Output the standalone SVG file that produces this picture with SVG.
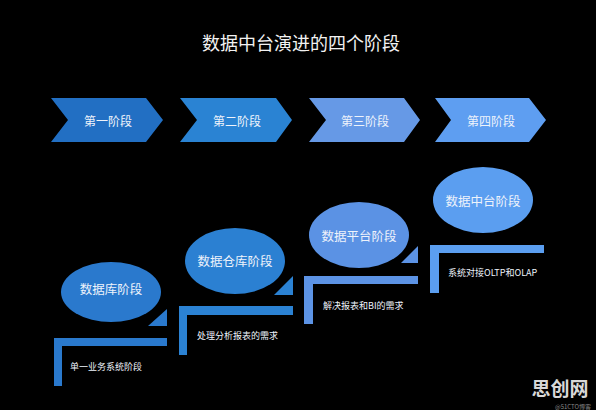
<svg xmlns="http://www.w3.org/2000/svg" width="596" height="410" viewBox="0 0 596 410">
<style>
text{font-family:"Noto Sans CJK SC","Noto Sans",sans-serif;fill:#eef3fb}
.t{font-size:18px;text-anchor:middle;dominant-baseline:central;fill:#f2f2f2}
.c{font-size:12px;text-anchor:middle;dominant-baseline:central}
.e{font-size:12.5px;text-anchor:middle;dominant-baseline:central}
.n{font-size:9px;dominant-baseline:central}
</style>
<rect width="596" height="410" fill="#000"/>
<text class="t" x="301" y="42">数据中台演进的四个阶段</text>
<g id="chevron1"><polygon points="51,98 146,98 163,120 146,142 51,142 68,120" fill="#226fc3"/><text class="c" x="108" y="120">第一阶段</text></g>
<g id="chevron2"><polygon points="180,98 276,98 292,120 276,142 180,142 197,120" fill="#2a83d3"/><text class="c" x="237" y="120">第二阶段</text></g>
<g id="chevron3"><polygon points="309,98 404,98 420,120 404,142 309,142 326,120" fill="#6699e6"/><text class="c" x="365" y="120">第三阶段</text></g>
<g id="chevron4"><polygon points="435,98 529,98 546,120 529,142 435,142 451,120" fill="#5e9ef1"/><text class="c" x="491" y="120">第四阶段</text></g>
<g id="stage1">
<ellipse cx="111" cy="292" rx="50" ry="30" fill="#2a79cd"/>
<text class="e" x="111" y="288">数据库阶段</text>
<polygon points="148,326 167,309 167,326" fill="#2a79cd"/>
<path d="M54,338 H167 V346 H62 V386 H54 Z" fill="#2a79cd"/>
<text class="n" x="70" y="366">单一业务系统阶段</text>
</g>
<g id="stage2">
<ellipse cx="235" cy="261" rx="50" ry="33" fill="#2b80d2"/>
<text class="e" x="235" y="260">数据仓库阶段</text>
<polygon points="274,295 293,276 293,295" fill="#2b82d3"/>
<path d="M179,306 H293 V315 H187 V355 H179 Z" fill="#2b82d3"/>
<text class="n" x="197" y="335">处理分析报表的需求</text>
</g>
<g id="stage3">
<ellipse cx="359" cy="235" rx="50" ry="33" fill="#5b92e4"/>
<text class="e" x="359" y="235">数据平台阶段</text>
<polygon points="401,263 418,246 418,263" fill="#5c93e5"/>
<path d="M304,276 H418 V284 H313 V324 H304 Z" fill="#5c93e5"/>
<text class="n" x="323" y="305">解决报表和BI的需求</text>
</g>
<g id="stage4">
<ellipse cx="483" cy="200" rx="50" ry="33" fill="#5b9ef0"/>
<text class="e" x="483" y="200">数据中台阶段</text>
<path d="M430,245 H544 V253 H439 V293 H430 Z" fill="#5b9ef0"/>
<text class="n" x="448" y="272">系统对接OLTP和OLAP</text>
</g>
<g id="connectors"></g>
<g id="watermark">
<text x="560" y="387" style="font-size:19px;font-weight:bold;text-anchor:middle;dominant-baseline:central;fill:#d8d8d8">思创网</text>
<text x="573" y="406.5" style="font-size:6px;text-anchor:middle;dominant-baseline:central;fill:#888">@51CTO博客</text>
</g>
</svg>
